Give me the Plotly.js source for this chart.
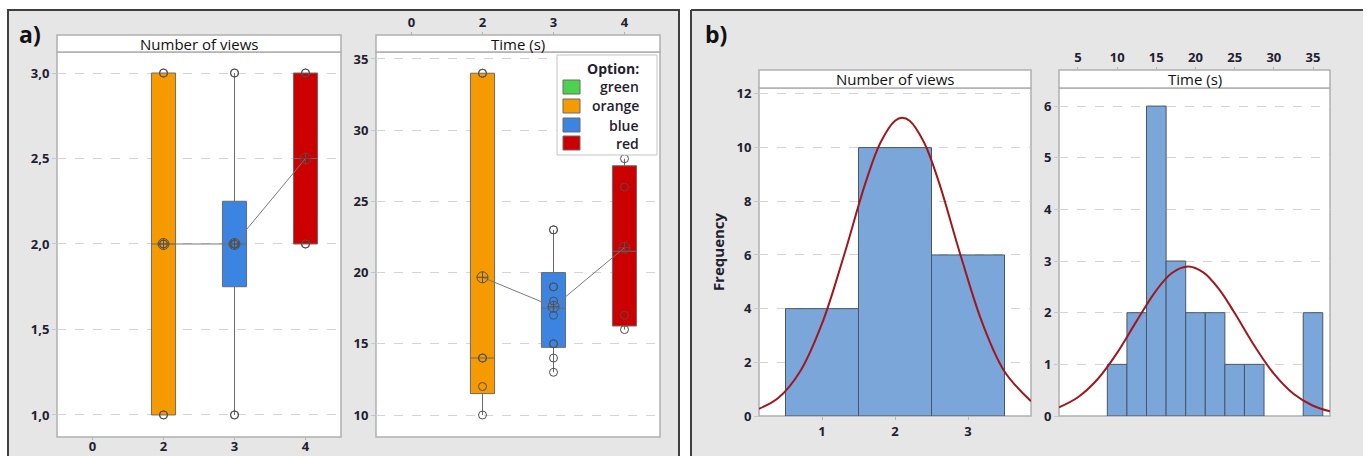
<!DOCTYPE html>
<html>
<head>
<meta charset="utf-8">
<script src="https://cdn.plot.ly/plotly-3.0.1.min.js"></script>
<style>html,body{margin:0;padding:0;background:#fff;}#chart{width:1368px;height:456px;}</style>
</head>
<body>
<div id="chart"></div>
<script>
// ---------- data ----------
const groups = ['green', 'orange', 'blue', 'red'];
const groupTicks = ['0', '2', '3', '4'];
const groupColors = ['#4cd24c', '#f59a00', '#3b84e2', '#cc0000'];
const boxGroups = ['orange', 'blue', 'red'];

const viewsOrange = [1, 1, 2, 2, 3, 3];
const viewsBlue = [1, 1, 2, 2, 2, 2, 2, 2, 3, 3];
const viewsRed = [2, 2, 3, 3];
const timeOrange = [34, 34, 14, 14, 12, 10];
const timeBlue = [23, 23, 19, 19, 18, 17, 15, 15, 14, 13];
const timeRed = [28, 26, 17, 16];

// box statistics (Minitab quartiles) per group: orange, blue, red
const viewsQ1 = [1, 1.75, 2];
const viewsMedian = [2, 2, 2.5];
const viewsQ3 = [3, 2.25, 3];
const viewsLow = [1, 1, 2];
const viewsHigh = [3, 3, 3];
const viewsMean = [2, 2, 2.5];

const timeQ1 = [11.5, 14.75, 16.25];
const timeMedian = [14, 17.5, 21.5];
const timeQ3 = [34, 20, 27.5];
const timeLow = [10, 13, 16];
const timeHigh = [34, 23, 28];
const timeMean = [19.67, 17.6, 21.75];

// fitted normal curves
const viewsCurveX = [0.137, 0.4, 0.7, 1.0, 1.3, 1.6, 1.8, 2.0, 2.1, 2.2, 2.4, 2.6, 2.9, 3.2, 3.5, 3.863];
const viewsCurveY = [0.27, 0.67, 1.66, 3.44, 5.97, 8.72, 10.18, 11.0, 11.11, 11.0, 10.18, 8.72, 5.97, 3.44, 1.66, 0.55];
const timeCurveX = [2.58, 5, 7.5, 10, 12.5, 15, 17, 19.05, 21, 23, 25, 27.5, 30, 32.5, 35, 37.17];
const timeCurveY = [0.167, 0.363, 0.711, 1.222, 1.842, 2.434, 2.768, 2.893, 2.780, 2.455, 1.993, 1.365, 0.819, 0.431, 0.199, 0.091];

const viewsTicks = [1, 1.5, 2, 2.5, 3];
const timeTicks = [10, 15, 20, 25, 30, 35];
const freqTicksViews = [0, 2, 4, 6, 8, 10, 12];
const freqTicksTime = [0, 1, 2, 3, 4, 5, 6];
const viewsBinTicks = [1, 2, 3];
const timeBinTicks = [5, 10, 15, 20, 25, 30, 35];

// ---------- helpers ----------
const W = 1368, H = 456;
const px = v => v / W;
const py = v => 1 - v / H;
const FONT = '"Open Sans", "Noto Sans", sans-serif';
const tickFont = {family: FONT, size: 13, color: '#1f2030', weight: 700};
const gridColor = '#d4d4d4';
const pointColor = '#505050';

const viewsSets = [viewsOrange, viewsBlue, viewsRed];
const timeSets = [timeOrange, timeBlue, timeRed];

const traces = [];
function addBoxes(xa, ya, q1, med, q3, lo, hi, mean, sets) {
  boxGroups.forEach((g, i) => {
    const pos = groups.indexOf(g);
    traces.push({
      type: 'box', xaxis: xa, yaxis: ya, x: [pos],
      q1: [q1[i]], median: [med[i]], q3: [q3[i]], lowerfence: [lo[i]], upperfence: [hi[i]],
      boxpoints: false, width: 0.34, whiskerwidth: 0,
      fillcolor: groupColors[pos], line: {color: '#6a6a6a', width: 1},
      showlegend: false, hoverinfo: 'skip'
    });
    traces.push({
      type: 'scatter', mode: 'markers', xaxis: xa, yaxis: ya,
      x: sets[i].map(() => pos), y: sets[i],
      marker: {symbol: 'circle-open', size: 8, color: pointColor, line: {width: 1}},
      showlegend: false, hoverinfo: 'skip'
    });
  });
  const pos = boxGroups.map(g => groups.indexOf(g));
  traces.push({
    type: 'scatter', mode: 'lines+markers', xaxis: xa, yaxis: ya,
    x: pos, y: mean,
    line: {color: '#7a7a7a', width: 1},
    marker: {symbol: 'circle-cross-open', size: 11, color: pointColor, line: {width: 1}},
    showlegend: false, hoverinfo: 'skip'
  });
}
addBoxes('x', 'y', viewsQ1, viewsMedian, viewsQ3, viewsLow, viewsHigh, viewsMean, viewsSets);
addBoxes('x2', 'y2', timeQ1, timeMedian, timeQ3, timeLow, timeHigh, timeMean, timeSets);

const viewsAll = [].concat(viewsOrange, viewsBlue, viewsRed);
const timeAll = [].concat(timeOrange, timeBlue, timeRed);
const histStyle = {color: '#7ba6da', line: {color: '#4a5566', width: 1}};
traces.push({type: 'histogram', x: viewsAll, xaxis: 'x3', yaxis: 'y3',
  xbins: {start: 0.5, end: 3.5, size: 1}, marker: histStyle, showlegend: false, hoverinfo: 'skip'});
traces.push({type: 'histogram', x: timeAll, xaxis: 'x4', yaxis: 'y4',
  xbins: {start: 8.75, end: 36.25, size: 2.5}, marker: histStyle, showlegend: false, hoverinfo: 'skip'});
traces.push({type: 'scatter', mode: 'lines', x: viewsCurveX, y: viewsCurveY, xaxis: 'x3', yaxis: 'y3',
  line: {color: '#a0171c', width: 2, shape: 'spline'}, showlegend: false, hoverinfo: 'skip'});
traces.push({type: 'scatter', mode: 'lines', x: timeCurveX, y: timeCurveY, xaxis: 'x4', yaxis: 'y4',
  line: {color: '#a0171c', width: 2, shape: 'spline'}, showlegend: false, hoverinfo: 'skip'});

// ---------- axes ----------
const baseX = {showgrid: false, zeroline: false, showline: false, ticks: 'outside', ticklen: 3,
  tickcolor: '#b5b5b5', tickfont: tickFont, fixedrange: true};
const baseY = {showgrid: true, gridcolor: gridColor, griddash: 'dash', gridwidth: 1, zeroline: false,
  showline: false, ticks: 'outside', ticklen: 4, tickcolor: '#c8c8c8', tickfont: tickFont, fixedrange: true};

const boxDomY = [py(437), py(52)];
const histDomY = [py(416), py(88)];

const layout = {
  width: W, height: H, autosize: false,
  margin: {l: 0, r: 0, t: 0, b: 0, pad: 0},
  paper_bgcolor: '#ffffff', plot_bgcolor: 'rgba(0,0,0,0)',
  separators: ',.',
  font: {family: FONT, color: '#1f2030'},
  showlegend: false,
  xaxis: Object.assign({}, baseX, {domain: [px(57), px(341)], range: [-0.5, 3.5], anchor: 'y',
    ticklen: 2, ticklabelstandoff: -5,
    tickmode: 'array', tickvals: [0, 1, 2, 3], ticktext: groupTicks}),
  yaxis: Object.assign({}, baseY, {domain: boxDomY, range: [0.871, 3.123], anchor: 'x',
    tickmode: 'array', tickvals: viewsTicks, tickformat: '.1f'}),
  xaxis2: Object.assign({}, baseX, {domain: [px(376), px(660)], range: [-0.5, 3.5], anchor: 'free',
    position: py(35), side: 'top', tickmode: 'array', tickvals: [0, 1, 2, 3], ticktext: groupTicks}),
  yaxis2: Object.assign({}, baseY, {domain: boxDomY, range: [8.455, 35.49], anchor: 'x2',
    tickmode: 'array', tickvals: timeTicks}),
  xaxis3: Object.assign({}, baseX, {domain: [px(759), px(1031)], range: [0.137, 3.863], anchor: 'y3',
    tickmode: 'array', tickvals: viewsBinTicks}),
  yaxis3: Object.assign({}, baseY, {domain: histDomY, range: [0, 12.22], anchor: 'x3',
    tickmode: 'array', tickvals: freqTicksViews,
    title: {text: 'Frequency', font: {family: FONT, size: 15, color: '#1f2030', weight: 700}, standoff: 8}}),
  xaxis4: Object.assign({}, baseX, {domain: [px(1059), px(1330)], range: [2.58, 37.17], anchor: 'free',
    position: py(70), side: 'top', tickmode: 'array', tickvals: timeBinTicks}),
  yaxis4: Object.assign({}, baseY, {domain: histDomY, range: [0, 6.35], anchor: 'x4',
    tickmode: 'array', tickvals: freqTicksTime}),
  shapes: [],
  annotations: []
};

const S = layout.shapes, A = layout.annotations;
// panel backgrounds
S.push({type: 'rect', xref: 'paper', yref: 'paper', layer: 'below', x0: px(8), x1: px(679), y0: py(480), y1: py(10),
  fillcolor: '#e6e6e6', line: {color: '#3f3f3f', width: 2}});
S.push({type: 'rect', xref: 'paper', yref: 'paper', layer: 'below', x0: px(691), x1: px(1363), y0: py(480), y1: py(10),
  fillcolor: '#e6e6e6', line: {width: 0}});
S.push({type: 'line', xref: 'paper', yref: 'paper', layer: 'below', x0: px(691), x1: px(1363), y0: py(10), y1: py(10),
  line: {color: '#3f3f3f', width: 2}});
S.push({type: 'line', xref: 'paper', yref: 'paper', layer: 'below', x0: px(691), x1: px(691), y0: py(480), y1: py(10),
  line: {color: '#3f3f3f', width: 2}});

// plot areas + strips
const plots = [
  {x0: 57, x1: 341, y0: 437, y1: 52, s0: 35, title: 'Number of views'},
  {x0: 376, x1: 660, y0: 437, y1: 52, s0: 35, title: 'Time (s)'},
  {x0: 759, x1: 1031, y0: 416, y1: 88, s0: 70, title: 'Number of views'},
  {x0: 1059, x1: 1330, y0: 416, y1: 88, s0: 70, title: 'Time (s)'}
];
plots.forEach(p => {
  S.push({type: 'rect', xref: 'paper', yref: 'paper', layer: 'below', x0: px(p.x0), x1: px(p.x1),
    y0: py(p.y0), y1: py(p.y1), fillcolor: '#ffffff', line: {color: '#b0b0b0', width: 1.5}});
  S.push({type: 'rect', xref: 'paper', yref: 'paper', layer: 'below', x0: px(p.x0), x1: px(p.x1),
    y0: py(p.y1), y1: py(p.s0), fillcolor: '#ffffff', line: {color: '#b0b0b0', width: 1.5}});
  A.push({xref: 'paper', yref: 'paper', x: px((p.x0 + p.x1) / 2), y: py((p.y1 + p.s0) / 2),
    text: p.title, showarrow: false, xanchor: 'center', yanchor: 'middle',
    font: {family: FONT, size: 15, color: '#111111'}});
});

// panel letters
A.push({xref: 'paper', yref: 'paper', x: px(17), y: py(34), text: 'a)', showarrow: false, xanchor: 'left', yanchor: 'middle',
  font: {family: FONT, size: 23, color: '#111', weight: 700}});
A.push({xref: 'paper', yref: 'paper', x: px(703), y: py(34), text: 'b)', showarrow: false, xanchor: 'left', yanchor: 'middle',
  font: {family: FONT, size: 23, color: '#111', weight: 700}});

// legend (a-right)
S.push({type: 'rect', xref: 'paper', yref: 'paper', layer: 'above', x0: px(557), x1: px(657), y0: py(155), y1: py(55),
  fillcolor: '#ffffff', line: {color: '#c4c4c4', width: 1}});
A.push({xref: 'paper', yref: 'paper', x: px(641), y: py(68), text: 'Option:', showarrow: false, xanchor: 'right',
  yanchor: 'middle', font: {family: FONT, size: 14, color: '#1f2030', weight: 700}});
const legendRows = [87, 106, 125, 143];
groups.forEach((g, i) => {
  const yc = legendRows[i];
  S.push({type: 'rect', xref: 'paper', yref: 'paper', layer: 'above', x0: px(563), x1: px(580), y0: py(yc + 7), y1: py(yc - 7),
    fillcolor: groupColors[i], line: {color: '#6a6a6a', width: 1}});
  A.push({xref: 'paper', yref: 'paper', x: px(641), y: py(yc), text: g, showarrow: false, xanchor: 'right',
    yanchor: 'middle', font: {family: FONT, size: 14, color: '#1f2030', weight: 600}});
});

Plotly.newPlot('chart', traces, layout, {staticPlot: true, displayModeBar: false});
</script>
</body>
</html>
